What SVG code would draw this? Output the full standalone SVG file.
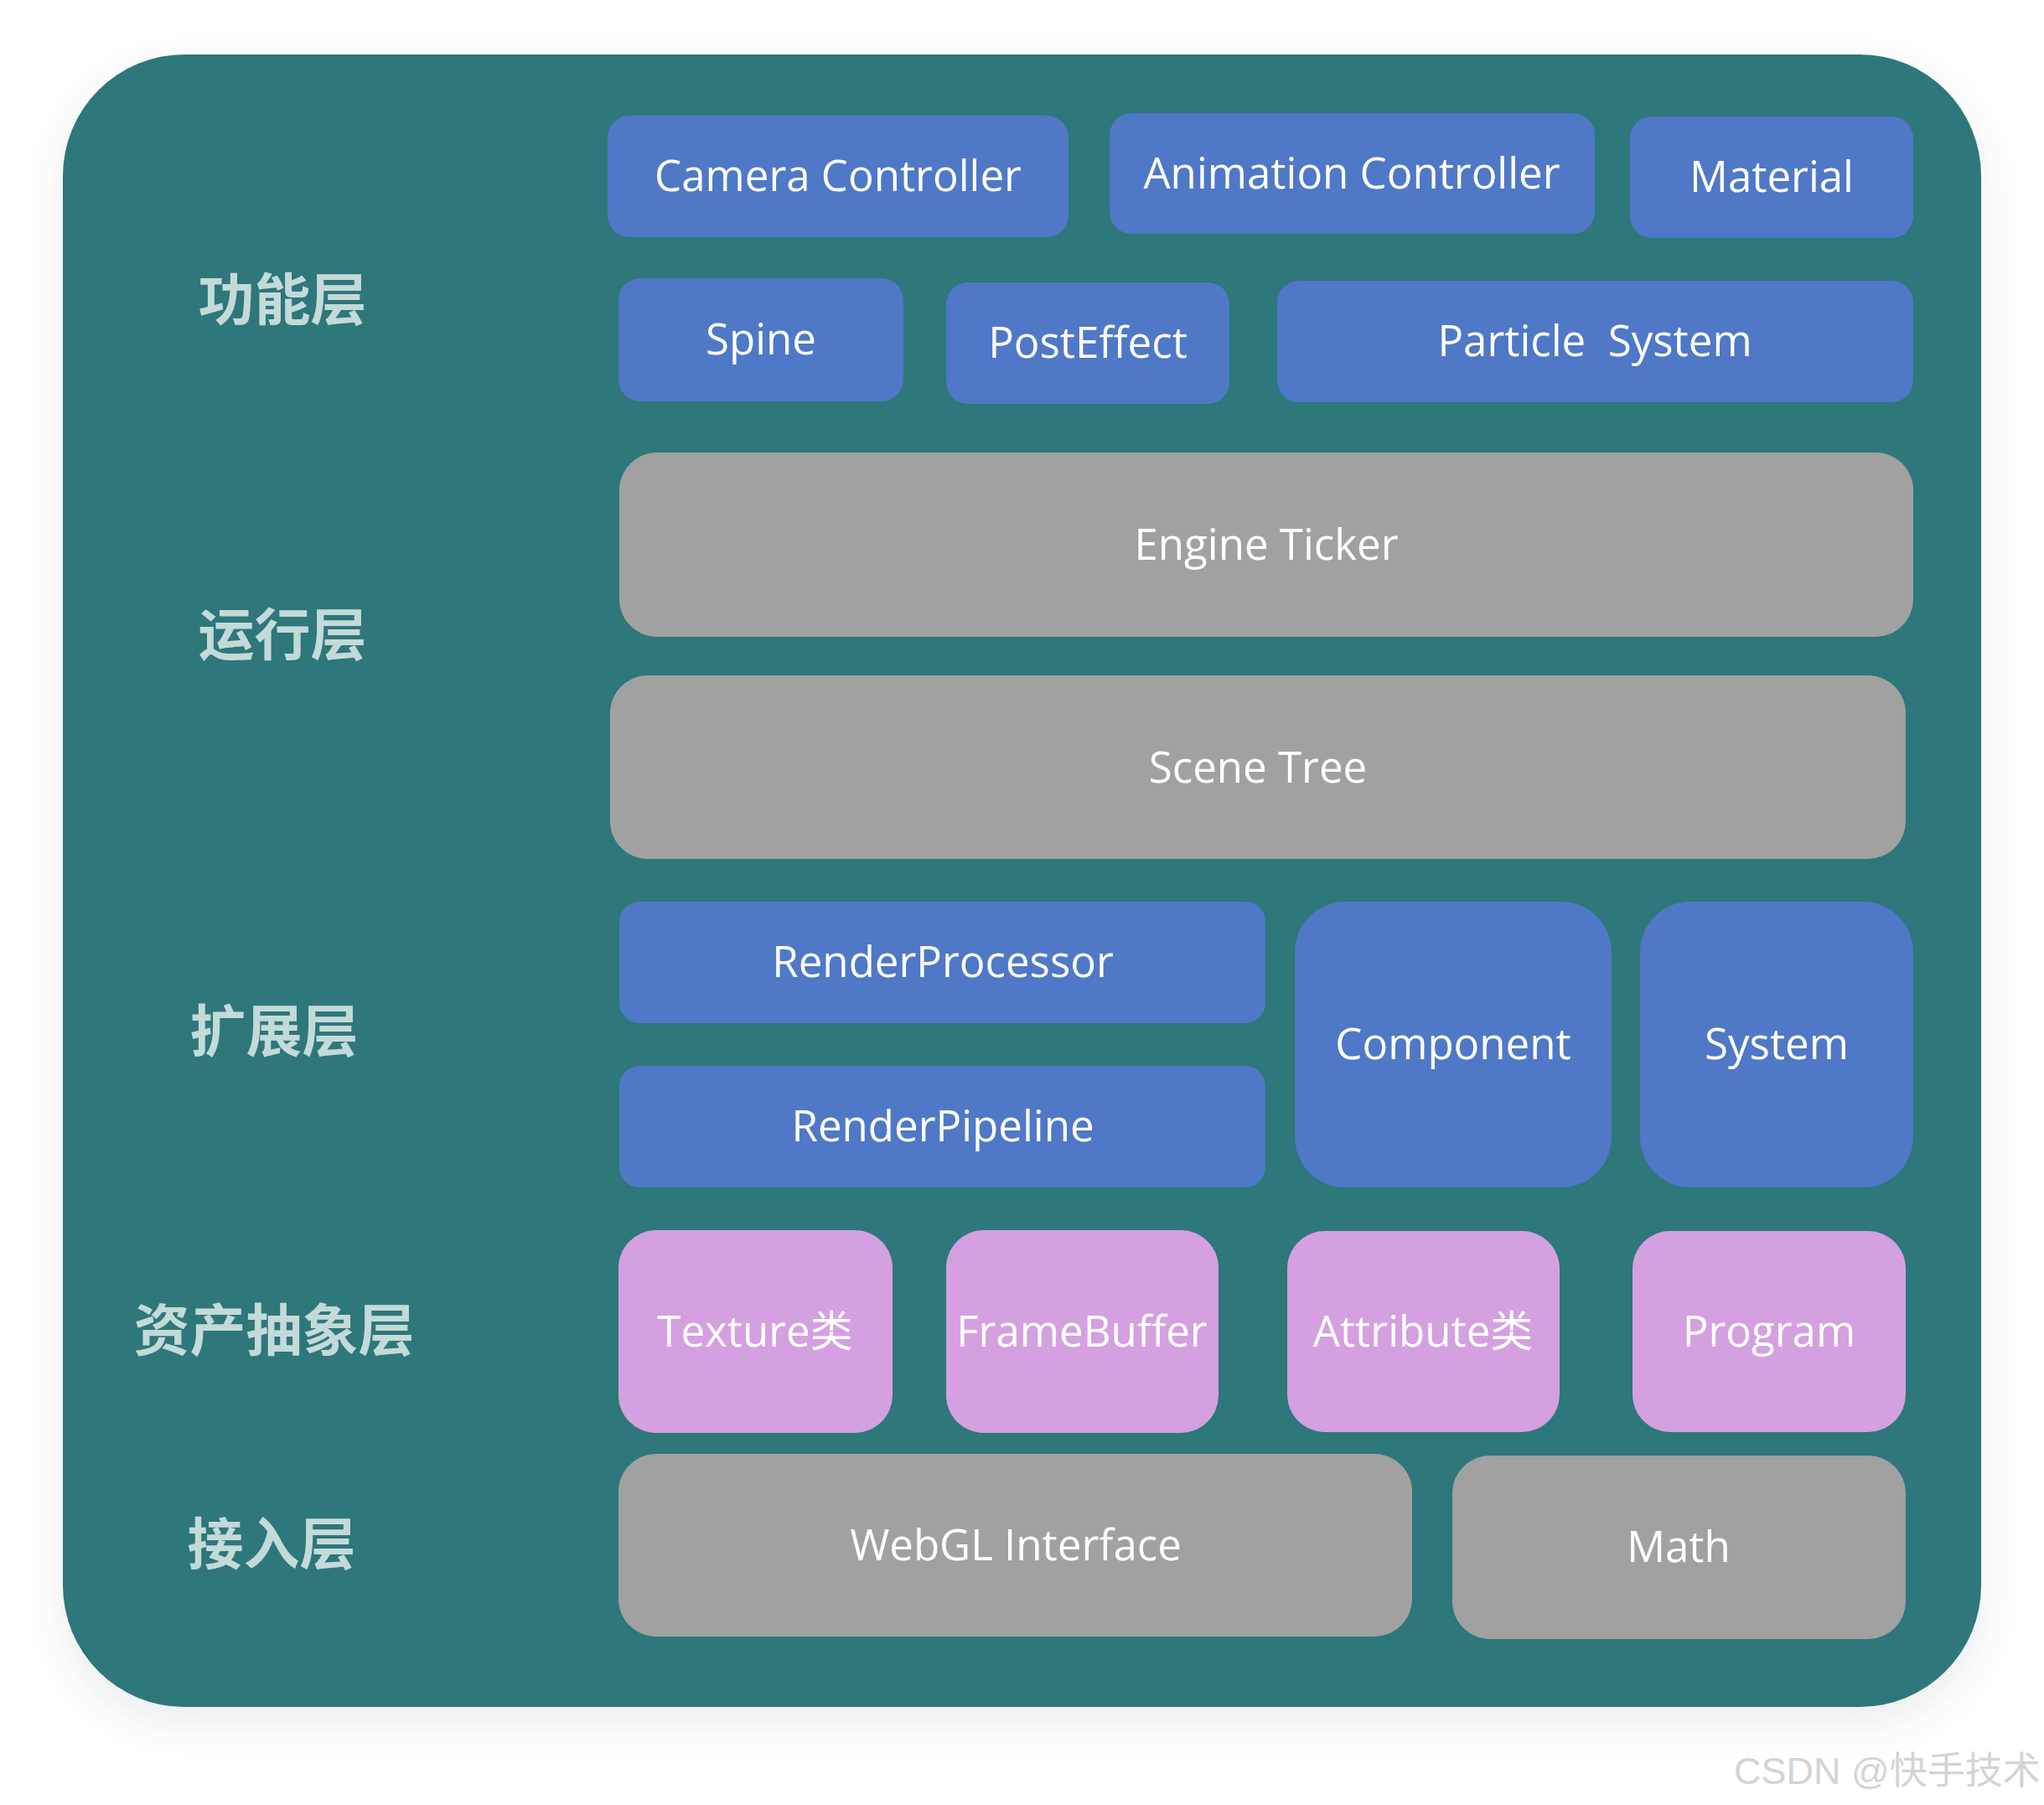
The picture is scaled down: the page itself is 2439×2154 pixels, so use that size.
<svg xmlns="http://www.w3.org/2000/svg" width="2439" height="2154" viewBox="0 0 2439 2154">
  <defs>
    <filter id="shadow" x="-10%" y="-10%" width="120%" height="120%">
      <feDropShadow dx="0" dy="18" stdDeviation="22" flood-color="#5a6a70" flood-opacity="0.12"/>
    </filter>
  </defs>
  <style>
    .blue { fill: #4F78C6; }
    .gray { fill: #A1A1A1; }
    .pink { fill: #D4A0E0; }
    .t { font-family: "Open Sans", "Noto Sans", "Noto Sans CJK SC", sans-serif; font-size: 51px; fill: #FFFFFF; text-anchor: middle; white-space: pre; }
    .layer { font-family: "Noto Sans CJK SC", "Noto Sans", sans-serif; font-size: 67px; font-weight: bold; fill: #C3DAD9; text-anchor: middle; }
    .wm { font-family: "Liberation Sans", "Noto Sans CJK SC", sans-serif; font-size: 45px; fill: #D4D4D4; }
  </style>
  <rect width="2439" height="2154" fill="#FFFFFF"/>
  <g id="container">
    <rect x="75" y="65" width="2289" height="1972" rx="145" ry="145" fill="#2E777A" filter="url(#shadow)"/>
  </g>
  <g id="layer-labels">
    <text class="layer" x="337" y="382">功能层</text>
    <text class="layer" x="337" y="782">运行层</text>
    <text class="layer" x="327" y="1255">扩展层</text>
    <text class="layer" x="327" y="1612">资产抽象层</text>
    <text class="layer" x="324" y="1867">接入层</text>
  </g>
  <g id="connectors"/>
  <g id="camera-controller"><rect class="blue" x="725" y="138" width="550" height="145" rx="26"/><text class="t" x="1000" y="228">Camera Controller</text></g>
  <g id="animation-controller"><rect class="blue" x="1324" y="135" width="579" height="144" rx="26"/><text class="t" x="1613" y="225">Animation Controller</text></g>
  <g id="material"><rect class="blue" x="1945" y="139" width="338" height="145" rx="26"/><text class="t" x="2114" y="229">Material</text></g>
  <g id="spine"><rect class="blue" x="738" y="332" width="340" height="147" rx="26"/><text class="t" x="908" y="423">Spine</text></g>
  <g id="posteffect"><rect class="blue" x="1129" y="337" width="338" height="145" rx="26"/><text class="t" x="1298" y="427">PostEffect</text></g>
  <g id="particle-system"><rect class="blue" x="1524" y="335" width="759" height="145" rx="26"/><text class="t" x="1903" y="425">Particle  System</text></g>
  <g id="engine-ticker"><rect class="gray" x="739" y="540" width="1544" height="220" rx="45"/><text class="t" x="1511" y="668">Engine Ticker</text></g>
  <g id="scene-tree"><rect class="gray" x="728" y="806" width="1546" height="219" rx="45"/><text class="t" x="1501" y="934">Scene Tree</text></g>
  <g id="render-processor"><rect class="blue" x="739" y="1076" width="771" height="145" rx="24"/><text class="t" x="1125" y="1166">RenderProcessor</text></g>
  <g id="render-pipeline"><rect class="blue" x="739" y="1272" width="771" height="145" rx="24"/><text class="t" x="1125" y="1362">RenderPipeline</text></g>
  <g id="component"><rect class="blue" x="1545" y="1076" width="378" height="341" rx="60"/><text class="t" x="1734" y="1264">Component</text></g>
  <g id="system"><rect class="blue" x="1957" y="1076" width="326" height="341" rx="60"/><text class="t" x="2120" y="1264">System</text></g>
  <g id="texture"><rect class="pink" x="738" y="1468" width="327" height="242" rx="45"/><text class="t" x="901" y="1607">Texture类</text></g>
  <g id="framebuffer"><rect class="pink" x="1129" y="1468" width="325" height="242" rx="45"/><text class="t" x="1291" y="1607">FrameBuffer</text></g>
  <g id="attribute"><rect class="pink" x="1536" y="1469" width="325" height="240" rx="45"/><text class="t" x="1698" y="1607">Attribute类</text></g>
  <g id="program"><rect class="pink" x="1948" y="1469" width="326" height="240" rx="45"/><text class="t" x="2111" y="1607">Program</text></g>
  <g id="webgl-interface"><rect class="gray" x="738" y="1735" width="947" height="218" rx="45"/><text class="t" x="1212" y="1862">WebGL Interface</text></g>
  <g id="math"><rect class="gray" x="1733" y="1737" width="541" height="219" rx="45"/><text class="t" x="2003" y="1864">Math</text></g>
  <text class="wm" x="2069" y="2129">CSDN @快手技术</text>
</svg>
